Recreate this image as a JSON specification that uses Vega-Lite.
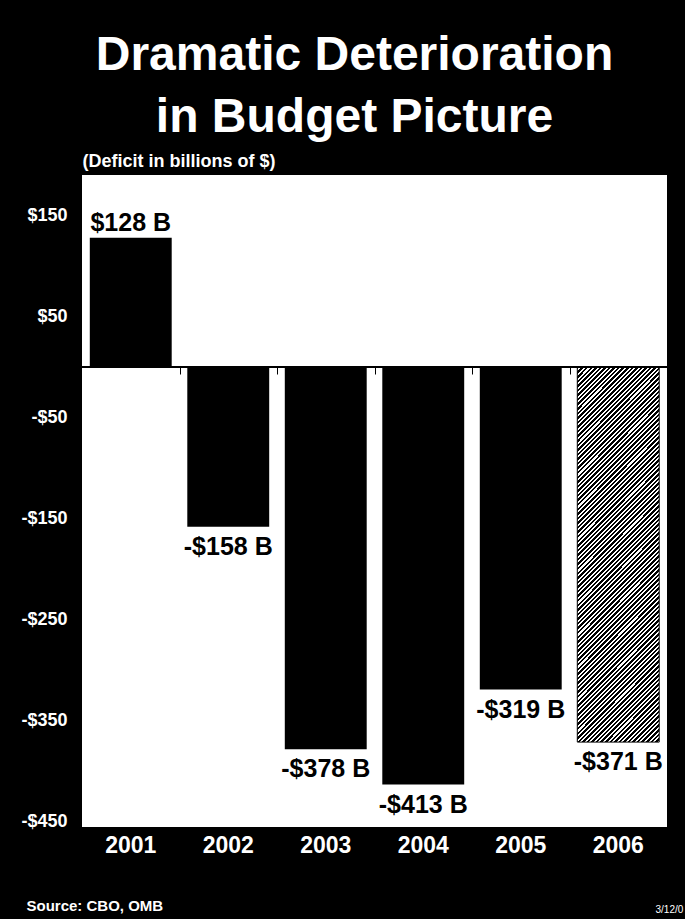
{
  "$schema": "https://vega.github.io/schema/vega-lite/v6.json",
  "autosize": {"type": "none"},
  "width": 585,
  "height": 652,
  "padding": {"left": 82, "top": 175, "right": 18, "bottom": 92},
  "background": "#000000",
  "title": {
    "text": ["Dramatic Deterioration", "in Budget Picture"],
    "fontSize": 48,
    "lineHeight": 62,
    "font": "Liberation Sans",
    "fontWeight": "bold",
    "color": "#ffffff",
    "anchor": "middle",
    "frame": "group",
    "baseline": "bottom",
    "offset": 30,
    "dx": -20,
    "dy": 68
  },
  "data": {
    "values": [
      {"year": "2001", "value": 128, "label": "$128 B"},
      {"year": "2002", "value": -158, "label": "-$158 B"},
      {"year": "2003", "value": -378, "label": "-$378 B"},
      {"year": "2004", "value": -413, "label": "-$413 B"},
      {"year": "2005", "value": -319, "label": "-$319 B"},
      {"year": "2006", "value": -371, "label": "-$371 B"}
    ]
  },
  "resolve": {"axis": {"x": "independent", "y": "independent"}},
  "layer": [
    {
      "transform": [{"filter": "datum.year != '2006'"}],
      "mark": {"type": "bar", "fill": "#000000"},
      "encoding": {
        "x": {
          "field": "year",
          "type": "nominal",
          "scale": {"domain": ["2001", "2002", "2003", "2004", "2005", "2006"], "paddingInner": 0.16, "paddingOuter": 0.08},
          "axis": {
            "labelAngle": 0,
            "labelColor": "#ffffff",
            "labelFont": "Liberation Sans",
            "labelFontWeight": "bold",
            "labelFontSize": 23,
            "labelPadding": 7,
            "domain": false,
            "ticks": false,
            "title": "Source:  CBO, OMB",
            "titleColor": "#ffffff",
            "titleFont": "Liberation Sans",
            "titleFontWeight": "bold",
            "titleFontSize": 15,
            "titleX": -56,
            "titleY": 83,
            "titleAlign": "left",
            "titleAnchor": null,
            "titleBaseline": "alphabetic"
          }
        },
        "y": {
          "field": "value",
          "type": "quantitative",
          "scale": {"domain": [-455, 190], "nice": false, "zero": false},
          "axis": {
            "values": [150, 50, -50, -150, -250, -350, -450],
            "labelExpr": "datum.value < 0 ? '-$' + abs(datum.value) : '$' + datum.value",
            "labelColor": "#ffffff",
            "labelFont": "Liberation Sans",
            "labelFontWeight": "bold",
            "labelFontSize": 18,
            "labelPadding": 15,
            "domain": false,
            "ticks": false,
            "grid": false,
            "title": "(Deficit in billions of $)",
            "titleColor": "#ffffff",
            "titleFont": "Liberation Sans",
            "titleFontWeight": "bold",
            "titleFontSize": 18,
            "titleAngle": 0,
            "titleAlign": "left",
            "titleBaseline": "alphabetic",
            "titleX": 0,
            "titleY": -9
          }
        },
        "y2": {"datum": 0}
      }
    },
    {
      "transform": [{"filter": "datum.year == '2006'"}],
      "mark": {
        "type": "bar",
        "stroke": "#000000",
        "strokeWidth": 1,
        "fill": {
          "gradient": "linear",
          "x1": 0, "y1": 0, "x2": 0.2547, "y2": 1.163,
          "stops": [
{"offset":0,"color":"#000"},{"offset":0.0055,"color":"#000"},{"offset":0.0055,"color":"#fff"},{"offset":0.01,"color":"#fff"},
{"offset":0.01,"color":"#000"},{"offset":0.0155,"color":"#000"},{"offset":0.0155,"color":"#fff"},{"offset":0.02,"color":"#fff"},
{"offset":0.02,"color":"#000"},{"offset":0.0255,"color":"#000"},{"offset":0.0255,"color":"#fff"},{"offset":0.03,"color":"#fff"},
{"offset":0.03,"color":"#000"},{"offset":0.0355,"color":"#000"},{"offset":0.0355,"color":"#fff"},{"offset":0.04,"color":"#fff"},
{"offset":0.04,"color":"#000"},{"offset":0.0455,"color":"#000"},{"offset":0.0455,"color":"#fff"},{"offset":0.05,"color":"#fff"},
{"offset":0.05,"color":"#000"},{"offset":0.0555,"color":"#000"},{"offset":0.0555,"color":"#fff"},{"offset":0.06,"color":"#fff"},
{"offset":0.06,"color":"#000"},{"offset":0.0655,"color":"#000"},{"offset":0.0655,"color":"#fff"},{"offset":0.07,"color":"#fff"},
{"offset":0.07,"color":"#000"},{"offset":0.0755,"color":"#000"},{"offset":0.0755,"color":"#fff"},{"offset":0.08,"color":"#fff"},
{"offset":0.08,"color":"#000"},{"offset":0.0855,"color":"#000"},{"offset":0.0855,"color":"#fff"},{"offset":0.09,"color":"#fff"},
{"offset":0.09,"color":"#000"},{"offset":0.0955,"color":"#000"},{"offset":0.0955,"color":"#fff"},{"offset":0.10,"color":"#fff"},
{"offset":0.10,"color":"#000"},{"offset":0.1055,"color":"#000"},{"offset":0.1055,"color":"#fff"},{"offset":0.11,"color":"#fff"},
{"offset":0.11,"color":"#000"},{"offset":0.1155,"color":"#000"},{"offset":0.1155,"color":"#fff"},{"offset":0.12,"color":"#fff"},
{"offset":0.12,"color":"#000"},{"offset":0.1255,"color":"#000"},{"offset":0.1255,"color":"#fff"},{"offset":0.13,"color":"#fff"},
{"offset":0.13,"color":"#000"},{"offset":0.1355,"color":"#000"},{"offset":0.1355,"color":"#fff"},{"offset":0.14,"color":"#fff"},
{"offset":0.14,"color":"#000"},{"offset":0.1455,"color":"#000"},{"offset":0.1455,"color":"#fff"},{"offset":0.15,"color":"#fff"},
{"offset":0.15,"color":"#000"},{"offset":0.1555,"color":"#000"},{"offset":0.1555,"color":"#fff"},{"offset":0.16,"color":"#fff"},
{"offset":0.16,"color":"#000"},{"offset":0.1655,"color":"#000"},{"offset":0.1655,"color":"#fff"},{"offset":0.17,"color":"#fff"},
{"offset":0.17,"color":"#000"},{"offset":0.1755,"color":"#000"},{"offset":0.1755,"color":"#fff"},{"offset":0.18,"color":"#fff"},
{"offset":0.18,"color":"#000"},{"offset":0.1855,"color":"#000"},{"offset":0.1855,"color":"#fff"},{"offset":0.19,"color":"#fff"},
{"offset":0.19,"color":"#000"},{"offset":0.1955,"color":"#000"},{"offset":0.1955,"color":"#fff"},{"offset":0.20,"color":"#fff"},
{"offset":0.20,"color":"#000"},{"offset":0.2055,"color":"#000"},{"offset":0.2055,"color":"#fff"},{"offset":0.21,"color":"#fff"},
{"offset":0.21,"color":"#000"},{"offset":0.2155,"color":"#000"},{"offset":0.2155,"color":"#fff"},{"offset":0.22,"color":"#fff"},
{"offset":0.22,"color":"#000"},{"offset":0.2255,"color":"#000"},{"offset":0.2255,"color":"#fff"},{"offset":0.23,"color":"#fff"},
{"offset":0.23,"color":"#000"},{"offset":0.2355,"color":"#000"},{"offset":0.2355,"color":"#fff"},{"offset":0.24,"color":"#fff"},
{"offset":0.24,"color":"#000"},{"offset":0.2455,"color":"#000"},{"offset":0.2455,"color":"#fff"},{"offset":0.25,"color":"#fff"},
{"offset":0.25,"color":"#000"},{"offset":0.2555,"color":"#000"},{"offset":0.2555,"color":"#fff"},{"offset":0.26,"color":"#fff"},
{"offset":0.26,"color":"#000"},{"offset":0.2655,"color":"#000"},{"offset":0.2655,"color":"#fff"},{"offset":0.27,"color":"#fff"},
{"offset":0.27,"color":"#000"},{"offset":0.2755,"color":"#000"},{"offset":0.2755,"color":"#fff"},{"offset":0.28,"color":"#fff"},
{"offset":0.28,"color":"#000"},{"offset":0.2855,"color":"#000"},{"offset":0.2855,"color":"#fff"},{"offset":0.29,"color":"#fff"},
{"offset":0.29,"color":"#000"},{"offset":0.2955,"color":"#000"},{"offset":0.2955,"color":"#fff"},{"offset":0.30,"color":"#fff"},
{"offset":0.30,"color":"#000"},{"offset":0.3055,"color":"#000"},{"offset":0.3055,"color":"#fff"},{"offset":0.31,"color":"#fff"},
{"offset":0.31,"color":"#000"},{"offset":0.3155,"color":"#000"},{"offset":0.3155,"color":"#fff"},{"offset":0.32,"color":"#fff"},
{"offset":0.32,"color":"#000"},{"offset":0.3255,"color":"#000"},{"offset":0.3255,"color":"#fff"},{"offset":0.33,"color":"#fff"},
{"offset":0.33,"color":"#000"},{"offset":0.3355,"color":"#000"},{"offset":0.3355,"color":"#fff"},{"offset":0.34,"color":"#fff"},
{"offset":0.34,"color":"#000"},{"offset":0.3455,"color":"#000"},{"offset":0.3455,"color":"#fff"},{"offset":0.35,"color":"#fff"},
{"offset":0.35,"color":"#000"},{"offset":0.3555,"color":"#000"},{"offset":0.3555,"color":"#fff"},{"offset":0.36,"color":"#fff"},
{"offset":0.36,"color":"#000"},{"offset":0.3655,"color":"#000"},{"offset":0.3655,"color":"#fff"},{"offset":0.37,"color":"#fff"},
{"offset":0.37,"color":"#000"},{"offset":0.3755,"color":"#000"},{"offset":0.3755,"color":"#fff"},{"offset":0.38,"color":"#fff"},
{"offset":0.38,"color":"#000"},{"offset":0.3855,"color":"#000"},{"offset":0.3855,"color":"#fff"},{"offset":0.39,"color":"#fff"},
{"offset":0.39,"color":"#000"},{"offset":0.3955,"color":"#000"},{"offset":0.3955,"color":"#fff"},{"offset":0.40,"color":"#fff"},
{"offset":0.40,"color":"#000"},{"offset":0.4055,"color":"#000"},{"offset":0.4055,"color":"#fff"},{"offset":0.41,"color":"#fff"},
{"offset":0.41,"color":"#000"},{"offset":0.4155,"color":"#000"},{"offset":0.4155,"color":"#fff"},{"offset":0.42,"color":"#fff"},
{"offset":0.42,"color":"#000"},{"offset":0.4255,"color":"#000"},{"offset":0.4255,"color":"#fff"},{"offset":0.43,"color":"#fff"},
{"offset":0.43,"color":"#000"},{"offset":0.4355,"color":"#000"},{"offset":0.4355,"color":"#fff"},{"offset":0.44,"color":"#fff"},
{"offset":0.44,"color":"#000"},{"offset":0.4455,"color":"#000"},{"offset":0.4455,"color":"#fff"},{"offset":0.45,"color":"#fff"},
{"offset":0.45,"color":"#000"},{"offset":0.4555,"color":"#000"},{"offset":0.4555,"color":"#fff"},{"offset":0.46,"color":"#fff"},
{"offset":0.46,"color":"#000"},{"offset":0.4655,"color":"#000"},{"offset":0.4655,"color":"#fff"},{"offset":0.47,"color":"#fff"},
{"offset":0.47,"color":"#000"},{"offset":0.4755,"color":"#000"},{"offset":0.4755,"color":"#fff"},{"offset":0.48,"color":"#fff"},
{"offset":0.48,"color":"#000"},{"offset":0.4855,"color":"#000"},{"offset":0.4855,"color":"#fff"},{"offset":0.49,"color":"#fff"},
{"offset":0.49,"color":"#000"},{"offset":0.4955,"color":"#000"},{"offset":0.4955,"color":"#fff"},{"offset":0.50,"color":"#fff"},
{"offset":0.50,"color":"#000"},{"offset":0.5055,"color":"#000"},{"offset":0.5055,"color":"#fff"},{"offset":0.51,"color":"#fff"},
{"offset":0.51,"color":"#000"},{"offset":0.5155,"color":"#000"},{"offset":0.5155,"color":"#fff"},{"offset":0.52,"color":"#fff"},
{"offset":0.52,"color":"#000"},{"offset":0.5255,"color":"#000"},{"offset":0.5255,"color":"#fff"},{"offset":0.53,"color":"#fff"},
{"offset":0.53,"color":"#000"},{"offset":0.5355,"color":"#000"},{"offset":0.5355,"color":"#fff"},{"offset":0.54,"color":"#fff"},
{"offset":0.54,"color":"#000"},{"offset":0.5455,"color":"#000"},{"offset":0.5455,"color":"#fff"},{"offset":0.55,"color":"#fff"},
{"offset":0.55,"color":"#000"},{"offset":0.5555,"color":"#000"},{"offset":0.5555,"color":"#fff"},{"offset":0.56,"color":"#fff"},
{"offset":0.56,"color":"#000"},{"offset":0.5655,"color":"#000"},{"offset":0.5655,"color":"#fff"},{"offset":0.57,"color":"#fff"},
{"offset":0.57,"color":"#000"},{"offset":0.5755,"color":"#000"},{"offset":0.5755,"color":"#fff"},{"offset":0.58,"color":"#fff"},
{"offset":0.58,"color":"#000"},{"offset":0.5855,"color":"#000"},{"offset":0.5855,"color":"#fff"},{"offset":0.59,"color":"#fff"},
{"offset":0.59,"color":"#000"},{"offset":0.5955,"color":"#000"},{"offset":0.5955,"color":"#fff"},{"offset":0.60,"color":"#fff"},
{"offset":0.60,"color":"#000"},{"offset":0.6055,"color":"#000"},{"offset":0.6055,"color":"#fff"},{"offset":0.61,"color":"#fff"},
{"offset":0.61,"color":"#000"},{"offset":0.6155,"color":"#000"},{"offset":0.6155,"color":"#fff"},{"offset":0.62,"color":"#fff"},
{"offset":0.62,"color":"#000"},{"offset":0.6255,"color":"#000"},{"offset":0.6255,"color":"#fff"},{"offset":0.63,"color":"#fff"},
{"offset":0.63,"color":"#000"},{"offset":0.6355,"color":"#000"},{"offset":0.6355,"color":"#fff"},{"offset":0.64,"color":"#fff"},
{"offset":0.64,"color":"#000"},{"offset":0.6455,"color":"#000"},{"offset":0.6455,"color":"#fff"},{"offset":0.65,"color":"#fff"},
{"offset":0.65,"color":"#000"},{"offset":0.6555,"color":"#000"},{"offset":0.6555,"color":"#fff"},{"offset":0.66,"color":"#fff"},
{"offset":0.66,"color":"#000"},{"offset":0.6655,"color":"#000"},{"offset":0.6655,"color":"#fff"},{"offset":0.67,"color":"#fff"},
{"offset":0.67,"color":"#000"},{"offset":0.6755,"color":"#000"},{"offset":0.6755,"color":"#fff"},{"offset":0.68,"color":"#fff"},
{"offset":0.68,"color":"#000"},{"offset":0.6855,"color":"#000"},{"offset":0.6855,"color":"#fff"},{"offset":0.69,"color":"#fff"},
{"offset":0.69,"color":"#000"},{"offset":0.6955,"color":"#000"},{"offset":0.6955,"color":"#fff"},{"offset":0.70,"color":"#fff"},
{"offset":0.70,"color":"#000"},{"offset":0.7055,"color":"#000"},{"offset":0.7055,"color":"#fff"},{"offset":0.71,"color":"#fff"},
{"offset":0.71,"color":"#000"},{"offset":0.7155,"color":"#000"},{"offset":0.7155,"color":"#fff"},{"offset":0.72,"color":"#fff"},
{"offset":0.72,"color":"#000"},{"offset":0.7255,"color":"#000"},{"offset":0.7255,"color":"#fff"},{"offset":0.73,"color":"#fff"},
{"offset":0.73,"color":"#000"},{"offset":0.7355,"color":"#000"},{"offset":0.7355,"color":"#fff"},{"offset":0.74,"color":"#fff"},
{"offset":0.74,"color":"#000"},{"offset":0.7455,"color":"#000"},{"offset":0.7455,"color":"#fff"},{"offset":0.75,"color":"#fff"},
{"offset":0.75,"color":"#000"},{"offset":0.7555,"color":"#000"},{"offset":0.7555,"color":"#fff"},{"offset":0.76,"color":"#fff"},
{"offset":0.76,"color":"#000"},{"offset":0.7655,"color":"#000"},{"offset":0.7655,"color":"#fff"},{"offset":0.77,"color":"#fff"},
{"offset":0.77,"color":"#000"},{"offset":0.7755,"color":"#000"},{"offset":0.7755,"color":"#fff"},{"offset":0.78,"color":"#fff"},
{"offset":0.78,"color":"#000"},{"offset":0.7855,"color":"#000"},{"offset":0.7855,"color":"#fff"},{"offset":0.79,"color":"#fff"},
{"offset":0.79,"color":"#000"},{"offset":0.7955,"color":"#000"},{"offset":0.7955,"color":"#fff"},{"offset":0.80,"color":"#fff"},
{"offset":0.80,"color":"#000"},{"offset":0.8055,"color":"#000"},{"offset":0.8055,"color":"#fff"},{"offset":0.81,"color":"#fff"},
{"offset":0.81,"color":"#000"},{"offset":0.8155,"color":"#000"},{"offset":0.8155,"color":"#fff"},{"offset":0.82,"color":"#fff"},
{"offset":0.82,"color":"#000"},{"offset":0.8255,"color":"#000"},{"offset":0.8255,"color":"#fff"},{"offset":0.83,"color":"#fff"},
{"offset":0.83,"color":"#000"},{"offset":0.8355,"color":"#000"},{"offset":0.8355,"color":"#fff"},{"offset":0.84,"color":"#fff"},
{"offset":0.84,"color":"#000"},{"offset":0.8455,"color":"#000"},{"offset":0.8455,"color":"#fff"},{"offset":0.85,"color":"#fff"},
{"offset":0.85,"color":"#000"},{"offset":0.8555,"color":"#000"},{"offset":0.8555,"color":"#fff"},{"offset":0.86,"color":"#fff"},
{"offset":0.86,"color":"#000"},{"offset":0.8655,"color":"#000"},{"offset":0.8655,"color":"#fff"},{"offset":0.87,"color":"#fff"},
{"offset":0.87,"color":"#000"},{"offset":0.8755,"color":"#000"},{"offset":0.8755,"color":"#fff"},{"offset":0.88,"color":"#fff"},
{"offset":0.88,"color":"#000"},{"offset":0.8855,"color":"#000"},{"offset":0.8855,"color":"#fff"},{"offset":0.89,"color":"#fff"},
{"offset":0.89,"color":"#000"},{"offset":0.8955,"color":"#000"},{"offset":0.8955,"color":"#fff"},{"offset":0.90,"color":"#fff"},
{"offset":0.90,"color":"#000"},{"offset":0.9055,"color":"#000"},{"offset":0.9055,"color":"#fff"},{"offset":0.91,"color":"#fff"},
{"offset":0.91,"color":"#000"},{"offset":0.9155,"color":"#000"},{"offset":0.9155,"color":"#fff"},{"offset":0.92,"color":"#fff"},
{"offset":0.92,"color":"#000"},{"offset":0.9255,"color":"#000"},{"offset":0.9255,"color":"#fff"},{"offset":0.93,"color":"#fff"},
{"offset":0.93,"color":"#000"},{"offset":0.9355,"color":"#000"},{"offset":0.9355,"color":"#fff"},{"offset":0.94,"color":"#fff"},
{"offset":0.94,"color":"#000"},{"offset":0.9455,"color":"#000"},{"offset":0.9455,"color":"#fff"},{"offset":0.95,"color":"#fff"},
{"offset":0.95,"color":"#000"},{"offset":0.9555,"color":"#000"},{"offset":0.9555,"color":"#fff"},{"offset":0.96,"color":"#fff"},
{"offset":0.96,"color":"#000"},{"offset":0.9655,"color":"#000"},{"offset":0.9655,"color":"#fff"},{"offset":0.97,"color":"#fff"},
{"offset":0.97,"color":"#000"},{"offset":0.9755,"color":"#000"},{"offset":0.9755,"color":"#fff"},{"offset":0.98,"color":"#fff"},
{"offset":0.98,"color":"#000"},{"offset":0.9855,"color":"#000"},{"offset":0.9855,"color":"#fff"},{"offset":0.99,"color":"#fff"},
{"offset":0.99,"color":"#000"},{"offset":0.9955,"color":"#000"},{"offset":0.9955,"color":"#fff"},{"offset":1,"color":"#fff"}
          ]
        }
      },
      "encoding": {
        "x": {"field": "year", "type": "nominal", "axis": null},
        "y": {"field": "value", "type": "quantitative", "axis": null},
        "y2": {"datum": 0}
      }
    },
    {
      "mark": {"type": "rule", "stroke": "#000000", "strokeWidth": 2},
      "encoding": {
        "y": {
          "datum": 0,
          "axis": {
            "orient": "right",
            "labels": false,
            "ticks": false,
            "domain": false,
            "grid": false,
            "title": "3/12/0",
            "titleColor": "#ffffff",
            "titleFont": "Liberation Sans",
            "titleFontWeight": "normal",
            "titleFontSize": 10,
            "titleAngle": 0,
            "titleAlign": "left",
            "titleBaseline": "alphabetic",
            "titleX": -12,
            "titleY": 737
          }
        }
      }
    },
    {
      "transform": [{"filter": "datum.value >= 0"}],
      "mark": {"type": "text", "font": "Liberation Sans", "fontWeight": "bold", "fontSize": 25, "color": "#000000", "baseline": "alphabetic", "dy": -7},
      "encoding": {
        "x": {"field": "year", "type": "nominal", "axis": null},
        "y": {"field": "value", "type": "quantitative", "axis": null},
        "text": {"field": "label"}
      }
    },
    {
      "transform": [{"filter": "datum.value < 0"}],
      "mark": {"type": "text", "font": "Liberation Sans", "fontWeight": "bold", "fontSize": 25, "color": "#000000", "baseline": "top", "dy": 8},
      "encoding": {
        "x": {
          "field": "year",
          "type": "nominal",
          "axis": {
            "orient": "top",
            "offset": -192,
            "labels": false,
            "domain": false,
            "grid": false,
            "title": null,
            "tickOffset": 48.75,
            "tickSize": -7,
            "tickColor": "#000000",
            "tickWidth": 1
          }
        },
        "y": {"field": "value", "type": "quantitative", "axis": null},
        "text": {"field": "label"}
      }
    }
  ],
  "config": {
    "view": {"fill": "#ffffff", "stroke": null}
  }
}
